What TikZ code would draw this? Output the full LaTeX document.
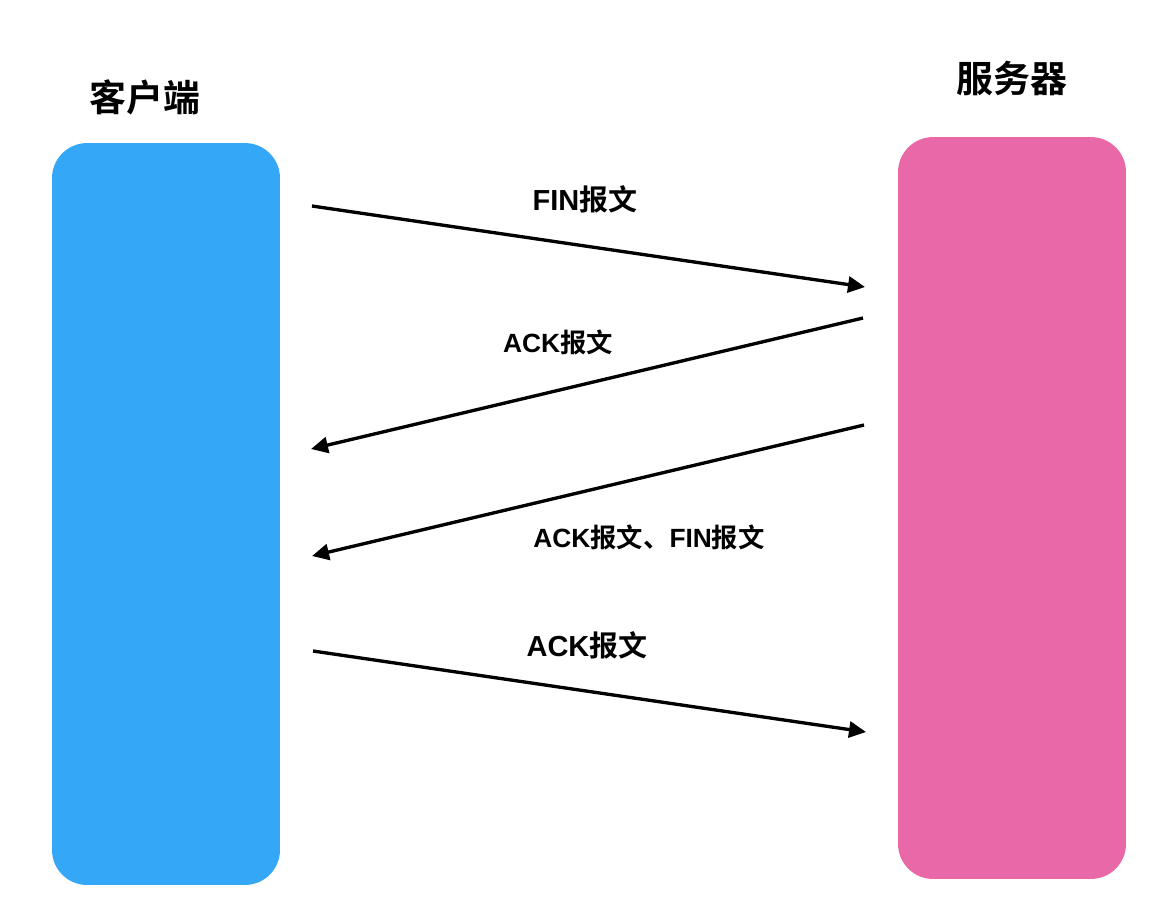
\documentclass[tikz,border=0pt]{standalone}
\usepackage{fontspec}
\newfontfamily\cjk{Noto Sans CJK SC}[BoldFont={Noto Sans CJK SC Bold}]
\newfontfamily\latin{Liberation Sans}
\usetikzlibrary{arrows.meta}
\definecolor{client_blue}{HTML}{34A8F6}
\definecolor{server_pink}{HTML}{E969A8}

\begin{document}
\begin{tikzpicture}[x=0.02cm,y=-0.02cm]
\tikzstyle{host}=[rectangle,draw=none,rounded corners=0.7cm,minimum width=4.56cm,minimum height=14.84cm];
\tikzstyle{title}=[font=\cjk\bfseries\fontsize{21}{25}\selectfont];
\tikzstyle{msg_label}=[font=\cjk\bfseries\fontsize{16.5}{20}\selectfont];
\tikzstyle{small_label}=[font=\cjk\bfseries\fontsize{15}{18}\selectfont];
\tikzstyle{msg}=[draw, line width=1.9pt, -{Triangle[length=0.34cm,width=0.32cm]}];
\useasboundingbox (0,0) rectangle (1172,914);
\coordinate (client_mid) at (166,514);
\coordinate (server_mid) at (1012,508);
\coordinate (client_top) at (145,97);
\coordinate (server_top) at (1012,78);
\coordinate (fin_start) at (312,206);
\coordinate (fin_end) at (865,287);
\coordinate (ack_start) at (863,318);
\coordinate (ack_end) at (311,449);
\coordinate (finack_start) at (864,425);
\coordinate (finack_end) at (312,556);
\coordinate (lastack_start) at (313,651);
\coordinate (lastack_end) at (866,732);
\node (client) at (client_mid) [style=host, fill=client_blue] {};
\node (server) at (server_mid) [style=host, fill=server_pink] {};
\node (client_label) at (client_top) [style=title] {客户端};
\node (server_label) at (server_top) [style=title] {服务器};
\node (fin_label) at (585,199) [style=msg_label] {{\latin FIN}报文};
\node (ack_label) at (558,342) [style=small_label] {{\latin ACK}报文};
\node (finack_label) at (649,537) [style=small_label] {{\latin ACK}报文、{\latin FIN}报文};
\node (lastack_label) at (587,645) [style=msg_label] {{\latin ACK}报文};
\path (fin_start) -- (fin_end) [style=msg];
\path (ack_start) -- (ack_end) [style=msg];
\path (finack_start) -- (finack_end) [style=msg];
\path (lastack_start) -- (lastack_end) [style=msg];
\end{tikzpicture}
\end{document}
